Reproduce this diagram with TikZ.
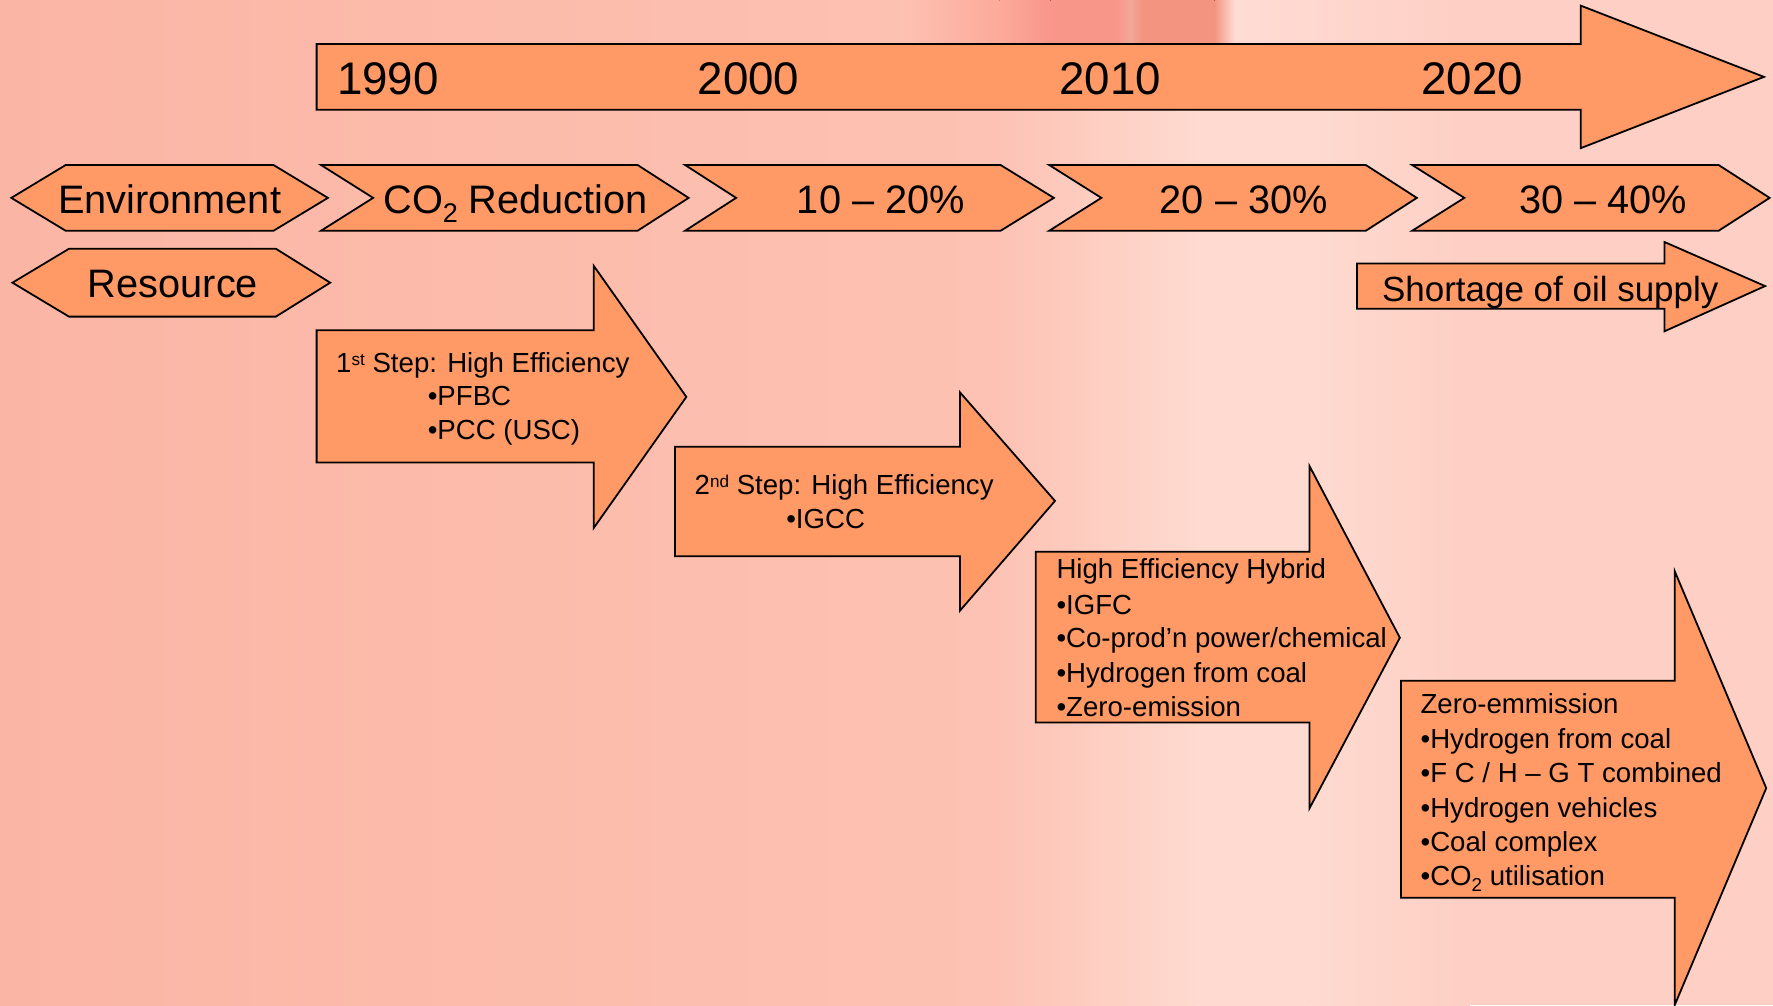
\documentclass[tikz,border=0pt]{standalone}
\usepackage{fontspec}
\setmainfont{Liberation Sans}
\definecolor{arrowfill}{HTML}{FF9966}
\definecolor{bgA}{HTML}{FBB5A4}
\definecolor{bgB}{HTML}{FDC2B3}
\definecolor{bgC}{HTML}{FEDAD0}
\definecolor{bgD}{HTML}{FECFC4}
\definecolor{rdA}{HTML}{FDAA9A}
\definecolor{rdB}{HTML}{F8968A}
\definecolor{rdC}{HTML}{F0A898}
\definecolor{rdD}{HTML}{F39480}
\definecolor{ltA}{HTML}{FFDCD4}
\newcommand\lowsub[1]{\raisebox{-0.45ex}{\fontsize{0.68em}{1em}\selectfont #1}}
\newcommand\highsup[1]{\raisebox{0.45ex}{\fontsize{0.62em}{1em}\selectfont #1}}
\begin{document}
\begin{tikzpicture}[x=0.02cm,y=-0.02cm,
  shp/.style={fill=arrowfill,draw=black,line width=0.9pt,line join=miter},
  yearlbl/.style={font=\fontsize{23}{27}\selectfont,inner sep=0pt,anchor=base},
  chevlbl/.style={font=\fontsize{20}{24}\selectfont,inner sep=0pt,anchor=base},
  steplbl/.style={font=\fontsize{13.9}{17}\selectfont,inner sep=0pt,anchor=base west},
]
\useasboundingbox (0,0) rectangle (1568,889);
% background
\fill[left color=bgA,right color=bgB] (0,0) rectangle (880,889);
\fill[left color=bgB,right color=bgC] (880,0) rectangle (1060,889);
\fill[left color=bgC,right color=bgC] (1060,0) rectangle (1160,889);
\fill[left color=bgC,right color=bgD] (1160,0) rectangle (1300,889);
\fill[bgD] (1300,0) rectangle (1568,889);
% reddish strip above the timeline
\fill[left color=bgB,right color=rdA] (796,0) rectangle (884,40);
\fill[left color=rdA,right color=rdB] (884,0) rectangle (929,40);
\fill[left color=rdB,right color=rdB] (929,0) rectangle (988,40);
\fill[left color=rdB,right color=rdC] (988,0) rectangle (1000,40);
\fill[left color=rdC,right color=rdD] (1000,0) rectangle (1010,40);
\fill[left color=rdD,right color=rdD] (1010,0) rectangle (1074,40);
\fill[left color=rdD,right color=ltA] (1074,0) rectangle (1092,40);
\fill[left color=ltA,right color=bgD] (1092,0) rectangle (1300,40);

% timeline arrow
\draw[shp] (280,39) -- (1398,39) -- (1398,5) -- (1560,68) -- (1398,131) -- (1398,97) -- (280,97) -- cycle;
\node[yearlbl] (y1990) at (343,84) {1990};
\node[yearlbl] (y2000) at (662,84) {2000};
\node[yearlbl] (y2010) at (982,84) {2010};
\node[yearlbl] (y2020) at (1302,84) {2020};

% hexagons and chevrons
\draw[shp] (10,175) -- (58,146) -- (242,146) -- (290,175) -- (242,204) -- (58,204) -- cycle;
\node[chevlbl] (env) at (150,188.5) {Environment};
\draw[shp] (11,250) -- (61,220) -- (244,220) -- (292,250) -- (244,280) -- (61,280) -- cycle;
\node[chevlbl] (res) at (153,263) {Resource};
\draw[shp] (284,146) -- (564,146) -- (609,175) -- (564,204) -- (284,204) -- (330,175) -- cycle;
\node[chevlbl] (co2) at (456,188.5) {CO\lowsub{2} Reduction};
\draw[shp] (606,146) -- (885,146) -- (932,175) -- (885,204) -- (606,204) -- (651,175) -- cycle;
\node[chevlbl] (p1) at (779,188.5) {10 – 20\%};
\draw[shp] (928,146) -- (1208,146) -- (1253,175) -- (1208,204) -- (928,204) -- (974,175) -- cycle;
\node[chevlbl] (p2) at (1100,188.5) {20 – 30\%};
\draw[shp] (1249,146) -- (1520,146) -- (1565,175) -- (1520,204) -- (1249,204) -- (1295,175) -- cycle;
\node[chevlbl] (p3) at (1418,188.5) {30 – 40\%};

% shortage arrow
\draw[shp] (1200,233) -- (1472,233) -- (1472,214) -- (1561,253) -- (1472,293) -- (1472,273) -- (1200,273) -- cycle;
\node[font=\fontsize{17.6}{21}\selectfont,inner sep=0pt,anchor=base] (short) at (1371,267) {Shortage of oil supply};

% step 1
\draw[shp] (280,292) -- (525,292) -- (525,235) -- (607,351) -- (525,467) -- (525,409) -- (280,409) -- cycle;
\node[steplbl] (s1a) at (297,329) {1\highsup{st} Step: High Efficiency};
\node[steplbl] (s1b) at (378,359) {•PFBC};
\node[steplbl] (s1c) at (378,389) {•PCC (USC)};

% step 2
\draw[shp] (597,395) -- (849,395) -- (849,347) -- (933,443) -- (849,540) -- (849,492) -- (597,492) -- cycle;
\node[steplbl] (s2a) at (614,437) {2\highsup{nd} Step: High Efficiency};
\node[steplbl] (s2b) at (695,467) {•IGCC};

% step 3
\draw[shp] (916,488) -- (1158,488) -- (1158,412) -- (1238,564) -- (1158,715) -- (1158,639) -- (916,639) -- cycle;
\node[steplbl] (s3a) at (934,512) {High Efficiency Hybrid};
\node[steplbl] (s3b) at (934,543) {•IGFC};
\node[steplbl] (s3c) at (934,573) {•Co-prod’n power/chemical};
\node[steplbl] (s3d) at (934,604) {•Hydrogen from coal};
\node[steplbl] (s3e) at (934,634) {•Zero-emission};

% step 4
\draw[shp] (1239,602) -- (1481,602) -- (1481,505) -- (1562,697) -- (1481,889) -- (1481,794) -- (1239,794) -- cycle;
\node[steplbl] (s4a) at (1256,631) {Zero-emmission};
\node[steplbl] (s4b) at (1256,662) {•Hydrogen from coal};
\node[steplbl] (s4c) at (1256,692) {•F C / H – G T combined};
\node[steplbl] (s4d) at (1256,723) {•Hydrogen vehicles};
\node[steplbl] (s4e) at (1256,753) {•Coal complex};
\node[steplbl] (s4f) at (1256,783) {•CO\lowsub{2} utilisation};
\end{tikzpicture}
\end{document}
